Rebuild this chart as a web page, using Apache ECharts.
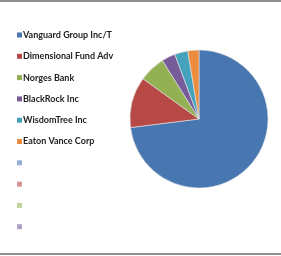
<!DOCTYPE html>
<html><head><meta charset="utf-8">
<script src="https://cdn.jsdelivr.net/npm/echarts@6/dist/echarts.min.js"></script>
<style>html,body{margin:0;padding:0;background:#fff}#c{width:281px;height:256px}</style>
</head><body><div id="c"></div>
<script>
var categories = ['Vanguard Group Inc/T','Dimensional Fund Adv','Norges Bank','BlackRock Inc','WisdomTree Inc','Eaton Vance Corp','blank1','blank2','blank3','blank4'];
var values = [73.1, 11.9, 6.2, 3.2, 3.1, 2.6, 0, 0, 0, 0];
var colors = ['#4876B0','#B64845','#93B152','#775C99','#44A2BC','#EB8C3E','#95AFD6','#D69594','#BFD39A','#AFA0C6'];

var chart = echarts.init(document.getElementById('c'), null, {renderer:'canvas'});
var data = categories.map(function(n,i){
  return {name:n, value:values[i], itemStyle:{color:colors[i], borderWidth: values[i] > 0 ? 0.6 : 0, borderColor:'#e8e8e8'}};
});
chart.setOption({
  animation:false,
  graphic:[
    {type:'rect', shape:{x:0,y:0,width:281,height:2}, style:{fill:'#8f8f8f'}},
    {type:'rect', shape:{x:0,y:253,width:281,height:2}, style:{fill:'#8f8f8f'}}
  ],
  legend:{
    orient:'vertical', left:12, top:24,
    itemWidth:5, itemHeight:5, itemGap:9.3,
    icon:'rect',
    itemStyle:{borderWidth:0},
    formatter:function(n){ return n.indexOf('blank')===0 ? ' ' : n; },
    textStyle:{fontFamily:'Lato', fontWeight:'bold', fontSize:9, color:'#222', lineHeight:12, padding:[0,0,0,-4]},
    data:categories
  },
  series:[{
    type:'pie', center:[199,119], radius:69, startAngle:90, clockwise:true,
    label:{show:false}, labelLine:{show:false}, emphasis:{disabled:true},
    silent:true, minAngle:0, stillShowZeroSum:false,
    data:data
  }]
});
</script></body></html>
